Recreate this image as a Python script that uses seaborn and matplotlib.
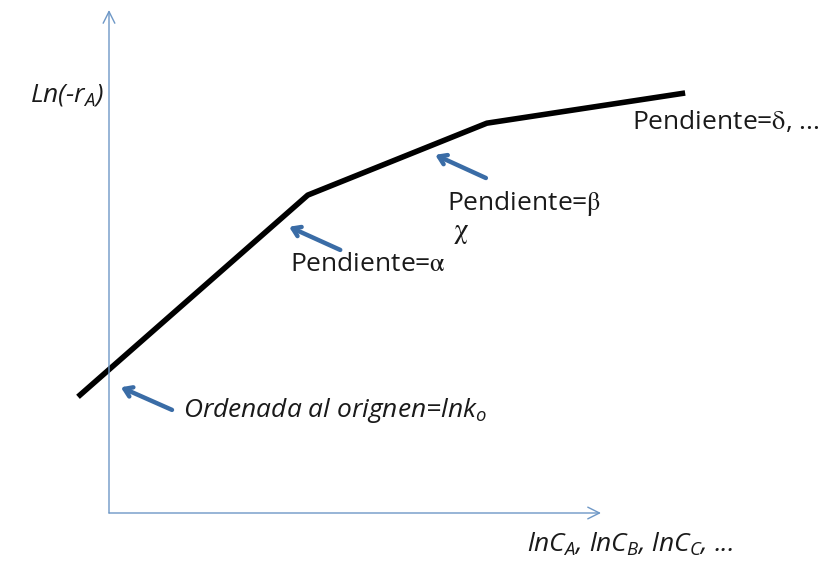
import numpy as np
import pandas as pd
import matplotlib
matplotlib.use("Agg")
import matplotlib.pyplot as plt
import seaborn as sns

# polyline ln(-rA) vs lnC (arbitrary units)
ln_c = [-0.63, 4.04, 7.68, 11.71]
ln_r = [2.31, 6.32, 7.75, 8.35]

# blue pointer arrows: (tail, tip)
arrow_tail_x = [1.28, 4.70, 7.66]
arrow_tail_y = [2.05, 5.23, 6.66]
arrow_tip_x = [0.24, 3.66, 6.63]
arrow_tip_y = [2.50, 5.69, 7.12]

AXIS_BLUE = "#6D97C6"
ARROW_BLUE = "#3A6CA6"
FONT = "Open Sans"

sns.set_theme(style="white")
plt.rcParams["font.family"] = [FONT, "DejaVu Sans"]
plt.rcParams["mathtext.fontset"] = "custom"
plt.rcParams["mathtext.rm"] = FONT
plt.rcParams["mathtext.it"] = FONT + ":italic"

W, H = 832, 565
fig = plt.figure(figsize=(W / 100, H / 100), dpi=100)
x0, y0, x1, y1 = 109, 513, 601, 10
ax = fig.add_axes([x0 / W, (H - y0) / H, (x1 - x0) / W, (y0 - y1) / H])
ax.set_xlim(0, 10)
ax.set_ylim(0, 10)
for s in ax.spines.values():
    s.set_visible(False)
ax.set_xticks([])
ax.set_yticks([])
ax.patch.set_alpha(0)

# axes with open arrowheads
ax.annotate("", xy=(0, 1), xytext=(0, 0), xycoords="axes fraction",
            arrowprops=dict(arrowstyle="->,head_length=0.7,head_width=0.35",
                            color=AXIS_BLUE, lw=1.0, shrinkA=0, shrinkB=0))
ax.annotate("", xy=(1, 0), xytext=(0, 0), xycoords="axes fraction",
            arrowprops=dict(arrowstyle="->,head_length=0.7,head_width=0.35",
                            color=AXIS_BLUE, lw=1.0, shrinkA=0, shrinkB=0))

df = pd.DataFrame({"lnC": ln_c, "lnr": ln_r})
sns.lineplot(data=df, x="lnC", y="lnr", ax=ax, color="black", lw=4.0,
             clip_on=False, solid_capstyle="butt")
ax.set_xlabel("")
ax.set_ylabel("")

for tx, ty, hx, hy in zip(arrow_tail_x, arrow_tail_y, arrow_tip_x, arrow_tip_y):
    ax.annotate("", xy=(hx, hy), xytext=(tx, ty),
                arrowprops=dict(arrowstyle="->,head_length=0.45,head_width=0.3",
                                color=ARROW_BLUE, lw=3.2, shrinkA=0, shrinkB=0),
                annotation_clip=False)

fs = 19
kw = dict(fontsize=fs, color="#1a1a1a", va="center", ha="left", clip_on=False)
greek = dict(kw, math_fontfamily="stix")
ax.text(-1.61, 8.31, r"Ln(-r$_A$)", style="italic", **kw)
ax.text(10.63, 7.77, r"Pendiente=$\mathrm{\delta}$, ...", **greek)
ax.text(6.87, 6.16, r"Pendiente=$\mathrm{\beta}$", **greek)
ax.text(3.68, 4.95, r"Pendiente=$\mathrm{\alpha}$", **greek)
ax.text(7.0, 5.59, r"$\mathrm{\chi}$", **dict(greek, fontsize=21))
ax.text(1.50, 2.03, r"Ordenada al orignen=lnk$_o$", style="italic", **kw)
ax.text(8.50, -0.62, r"lnC$_A$, lnC$_B$, lnC$_C$, ...", style="italic", **kw)

fig.savefig("out.png", dpi=100)
